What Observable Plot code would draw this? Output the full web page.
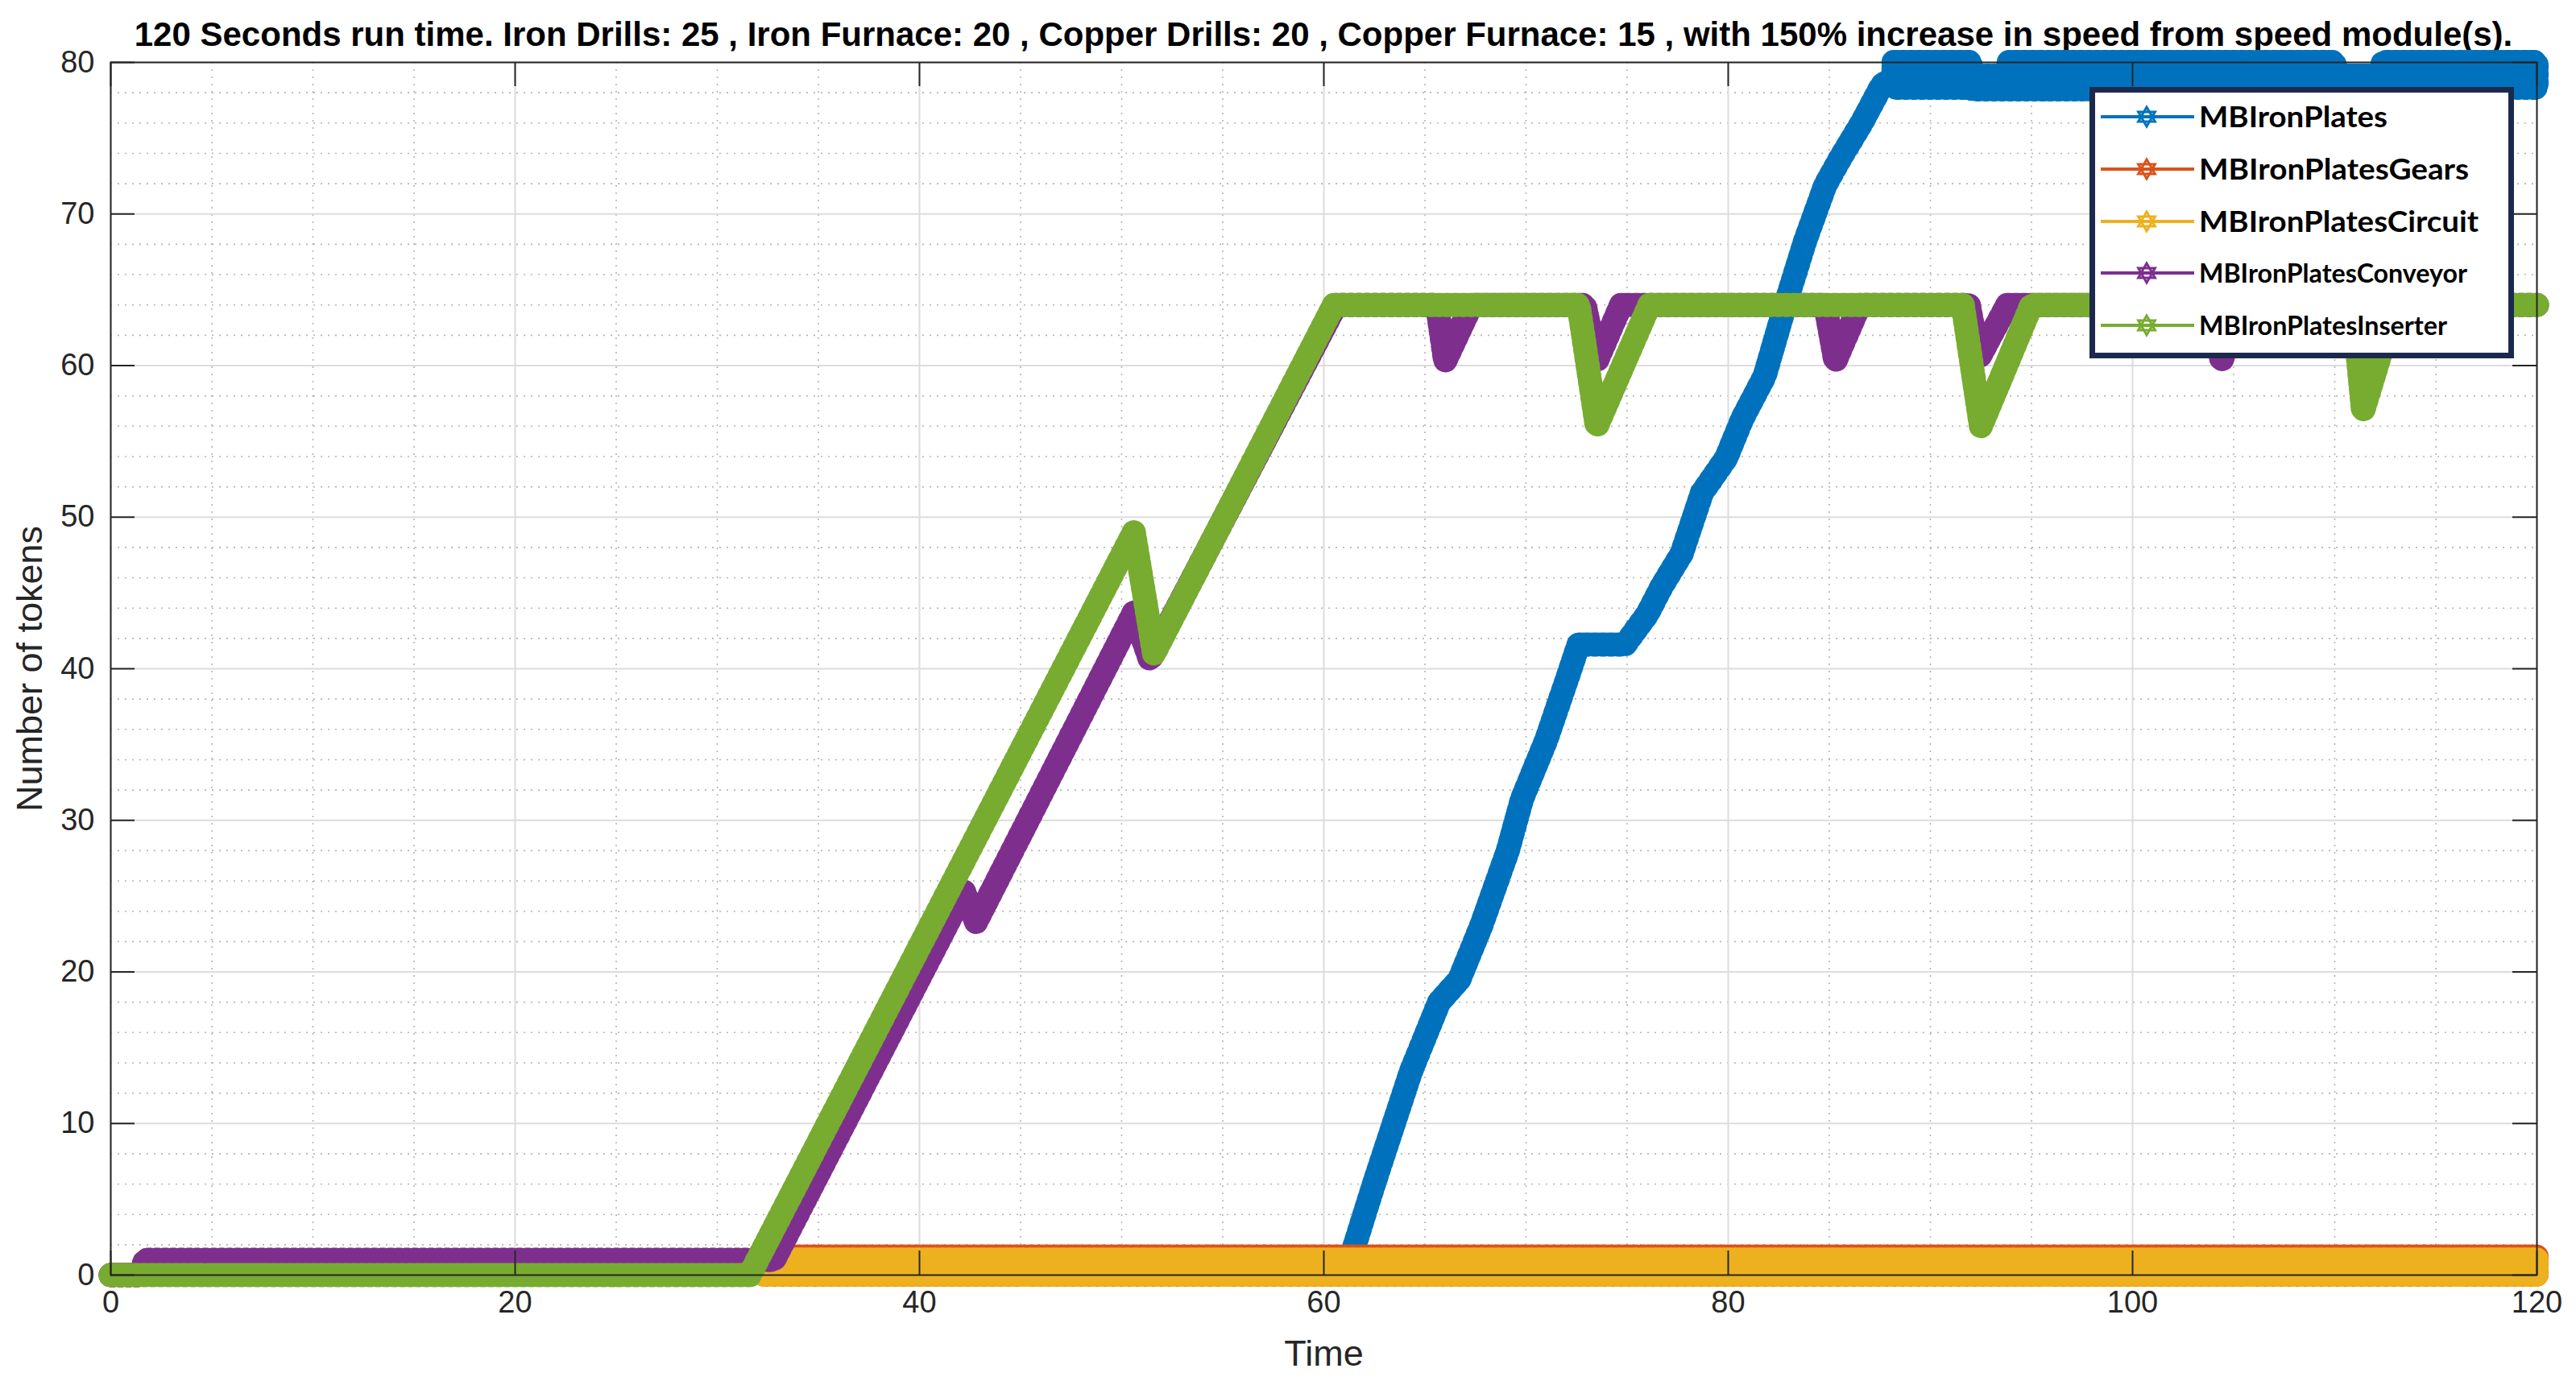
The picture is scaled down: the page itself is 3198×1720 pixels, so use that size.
<!DOCTYPE html>
<html><head><meta charset="utf-8">
<script src="https://cdn.jsdelivr.net/npm/d3@7"></script>
<script src="https://cdn.jsdelivr.net/npm/@observablehq/plot@0.6"></script>
<style>
html,body{margin:0;padding:0;background:#fff;}
#wrap{position:relative;width:3198px;height:1720px;overflow:hidden;font-family:"Liberation Sans",Arial,sans-serif;}
#title{height:66px;line-height:85px;padding-left:137px;padding-right:49px;text-align:center;font-weight:bold;font-size:42px;color:#000;white-space:nowrap;overflow:visible;}
#legend{position:absolute;left:2594px;top:108px;}
</style></head><body>
<div id="wrap"><div id="title"></div><div id="chart"></div></div>
<script>
// ---- text ----
const titleText = "120 Seconds run time. Iron Drills: 25 , Iron Furnace: 20 , Copper Drills: 20 , Copper Furnace: 15 , with 150% increase in speed from speed module(s).";
const xLabel = "Time";
const yLabel = "Number of tokens";

// ---- ticks ----
const xTicks = [0, 20, 40, 60, 80, 100, 120];
const xMinorTicks = [5, 10, 15, 25, 30, 35, 45, 50, 55, 65, 70, 75, 85, 90, 95, 105, 110, 115];
const yTicks = [0, 10, 20, 30, 40, 50, 60, 70, 80];
const yMinorTicks = [2, 4, 6, 8, 12, 14, 16, 18, 22, 24, 26, 28, 32, 34, 36, 38, 42, 44, 46, 48, 52, 54, 56, 58, 62, 64, 66, 68, 72, 74, 76, 78];

// ---- series ----
const seriesNames = ["MBIronPlates", "MBIronPlatesGears", "MBIronPlatesCircuit", "MBIronPlatesConveyor", "MBIronPlatesInserter"];

// MBIronPlates
const platesT = [0, 1.5, 1.7, 61.3, 62.5, 64.3, 65.7, 66.7, 67.8, 69.1, 69.8, 71.0, 72.1, 72.6, 74.9, 76.0, 76.7, 77.7, 78.7, 79.9, 80.7, 81.8, 82.8, 83.8, 84.8, 85.6, 86.6, 87.6, 88.2];
const platesV = [0, 0, 1, 1, 6.1, 13.4, 18.0, 19.5, 23.1, 28.0, 31.4, 35.3, 39.6, 41.6, 41.6, 43.6, 45.4, 47.6, 51.6, 53.9, 56.5, 59.3, 63.9, 68.2, 71.9, 73.8, 76.0, 78.5, 79.0];
const platesBandT  = [88.2, 92.0, 92.1, 93.8, 93.9, 97.5, 110.0, 110.1, 112.3, 112.4, 120];
const platesBandLo = [78.3, 78.3, 78.2, 78.2, 78.2, 78.2, 78.3, 78.3, 78.3, 78.3, 78.3];
const platesBandHi = [80.0, 80.0, 79.1, 79.1, 80.0, 80.0, 80.0, 79.1, 79.1, 80.0, 80.0];

// MBIronPlatesGears
const gearsT = [0, 1.5, 1.7, 32.3];
const gearsV = [0, 0, 1, 1];
const gearsBandT  = [32.3, 120];
const gearsBandLo = [0, 0];
const gearsBandHi = [1.2, 1.2];

// MBIronPlatesCircuit
const circuitT = [0, 1.5, 1.7, 32.3];
const circuitV = [0, 0, 1, 1];
const circuitBandT  = [32.3, 120];
const circuitBandLo = [0, 0];
const circuitBandHi = [1, 1];

// MBIronPlatesConveyor
const conveyorT = [0, 1.5, 1.7, 32.8, 42.2, 42.8, 50.6, 51.4, 60.6, 65.6, 66.0, 67.3, 72.9, 73.5, 74.7, 84.8, 85.3, 86.5, 91.9, 92.4, 93.8, 104.0, 104.4, 105.3, 111.0, 111.4, 112.4, 120];
const conveyorV = [0, 0, 1, 1, 25.3, 23.3, 43.7, 40.6, 64, 64, 60.3, 64, 64, 60.3, 64, 64, 60.3, 64, 64, 60.5, 64, 64, 60.3, 64, 64, 60.5, 64, 64];

// MBIronPlatesInserter
const inserterT = [0, 31.6, 50.6, 51.6, 60.5, 72.6, 73.5, 76.1, 91.6, 92.5, 95.0, 110.9, 111.4, 113.0, 120];
const inserterV = [0, 0, 49, 41, 64, 64, 56, 64, 64, 56, 64, 64, 57, 64, 64];

// ---- styles ----
const colors = ["#0072BD", "#D95319", "#EDB120", "#7E2F8E", "#77AC30"];
const CORE = 22, TEETH = 30;

const lineData = [
  [platesT, platesV], [gearsT, gearsV], [circuitT, circuitV], [conveyorT, conveyorV], [inserterT, inserterV]
].map(([t, v], i) => t.map((d, j) => ({series: seriesNames[i], t: d, v: v[j]})));
const bandData = [
  [platesBandT, platesBandLo, platesBandHi], [gearsBandT, gearsBandLo, gearsBandHi], [circuitBandT, circuitBandLo, circuitBandHi], null, null
].map((b, i) => b ? b[0].map((d, j) => ({series: seriesNames[i], t: d, lo: b[1][j], hi: b[2][j]})) : []);

const seriesMarks = [];
seriesNames.forEach((name, i) => {
  const c = colors[i];
  // serrated edge (marker tips), then solid core
  if (bandData[i].length) {
    seriesMarks.push(Plot.areaY(bandData[i], {x: "t", y1: "lo", y2: "hi", fill: c, stroke: c, strokeWidth: TEETH, strokeDasharray: "4,6"}));
  }
  seriesMarks.push(Plot.line(lineData[i], {x: "t", y: "v", stroke: c, strokeWidth: TEETH, strokeDasharray: "4,6", strokeLinejoin: "round"}));
  if (bandData[i].length) {
    seriesMarks.push(Plot.areaY(bandData[i], {x: "t", y1: "lo", y2: "hi", fill: c, stroke: c, strokeWidth: CORE, strokeLinejoin: "round"}));
  }
  seriesMarks.push(Plot.line(lineData[i], {x: "t", y: "v", stroke: c, strokeWidth: CORE, strokeLinejoin: "round", strokeLinecap: "round"}));
});

document.getElementById("title").textContent = titleText;

const W = 3198, H = 1654, mT = 11, mB = 137, mL = 137, mR = 49;
const frameH = H - mT - mB, frameW = W - mL - mR, tickLen = 30;
const axisColor = "#262626";

const chart = Plot.plot({
  width: W, height: H,
  marginTop: mT, marginBottom: mB, marginLeft: mL, marginRight: mR,
  x: {domain: [0, 120]},
  y: {domain: [0, 80]},
  style: {fontFamily: "'Liberation Sans', Arial, sans-serif", color: axisColor, background: "white", overflow: "visible"},
  marks: [
    Plot.gridX(xMinorTicks, {stroke: "#b4b4b4", strokeOpacity: 1, strokeWidth: 1.6, strokeDasharray: "2,7"}),
    Plot.gridY(yMinorTicks, {stroke: "#b4b4b4", strokeOpacity: 1, strokeWidth: 1.6, strokeDasharray: "2,7"}),
    Plot.gridX(xTicks, {stroke: "#dcdcdc", strokeOpacity: 1, strokeWidth: 2}),
    Plot.gridY(yTicks, {stroke: "#dcdcdc", strokeOpacity: 1, strokeWidth: 2}),
    ...seriesMarks,
    Plot.frame({stroke: axisColor, strokeWidth: 2}),
    Plot.ruleX(xTicks, {x: d => d, insetTop: frameH - tickLen, stroke: axisColor, strokeWidth: 2}),
    Plot.ruleX(xTicks, {x: d => d, insetBottom: frameH - tickLen, stroke: axisColor, strokeWidth: 2}),
    Plot.ruleY(yTicks, {y: d => d, insetRight: frameW - tickLen, stroke: axisColor, strokeWidth: 2}),
    Plot.ruleY(yTicks, {y: d => d, insetLeft: frameW - tickLen, stroke: axisColor, strokeWidth: 2}),
    Plot.axisX(xTicks, {tickSize: 0, tickPadding: 20, fontSize: 38, label: null}),
    Plot.axisY(yTicks, {tickSize: 0, tickPadding: 20, fontSize: 38, label: null}),
    Plot.text([xLabel], {frameAnchor: "bottom", dy: 98, fontSize: 45, fill: axisColor, textAnchor: "middle", lineAnchor: "middle"}),
    Plot.text([yLabel], {frameAnchor: "left", dx: -100, rotate: -90, fontSize: 45, fill: axisColor, textAnchor: "middle", lineAnchor: "middle"})
  ]
});
document.getElementById("chart").appendChild(chart);

// ---- legend (overlay inside the axes, as in the original) ----
const legendW = 527, legendH = 337;
const rowY = [37, 102, 167, 231, 296];
const textLen = [234, 335, 347, 333, 308];
const textSize = [36, 36, 36, 32, 32];
function hexagram(cx, cy, r) {
  const tri = a => d3.range(3).map(k => {
    const ang = a + k * 2 * Math.PI / 3;
    return [cx + r * Math.cos(ang), cy + r * Math.sin(ang)];
  });
  const p1 = tri(-Math.PI / 2), p2 = tri(Math.PI / 2);
  return "M" + p1.join("L") + "Z M" + p2.join("L") + "Z";
}
const lg = d3.create("svg").attr("id", "legend").attr("width", legendW).attr("height", legendH);
lg.append("rect").attr("x", 3.5).attr("y", 3.5).attr("width", legendW - 7).attr("height", legendH - 7)
  .attr("fill", "white").attr("stroke", "#1b2a4c").attr("stroke-width", 7);
seriesNames.forEach((name, i) => {
  const g = lg.append("g");
  g.append("line").attr("x1", 14).attr("x2", 130).attr("y1", rowY[i]).attr("y2", rowY[i])
    .attr("stroke", colors[i]).attr("stroke-width", 4);
  g.append("path").attr("d", hexagram(71, rowY[i], 12)).attr("fill", "none")
    .attr("stroke", colors[i]).attr("stroke-width", 3).attr("stroke-linejoin", "miter");
  g.append("text").attr("x", 136).attr("y", rowY[i]).attr("dy", "0.36em")
    .attr("font-family", "Lato, 'Open Sans', sans-serif").attr("font-weight", "bold")
    .attr("font-size", textSize[i]).attr("textLength", textLen[i]).attr("lengthAdjust", "spacingAndGlyphs")
    .attr("fill", "#000").text(name);
});
document.getElementById("wrap").appendChild(lg.node());
</script>
</body></html>
